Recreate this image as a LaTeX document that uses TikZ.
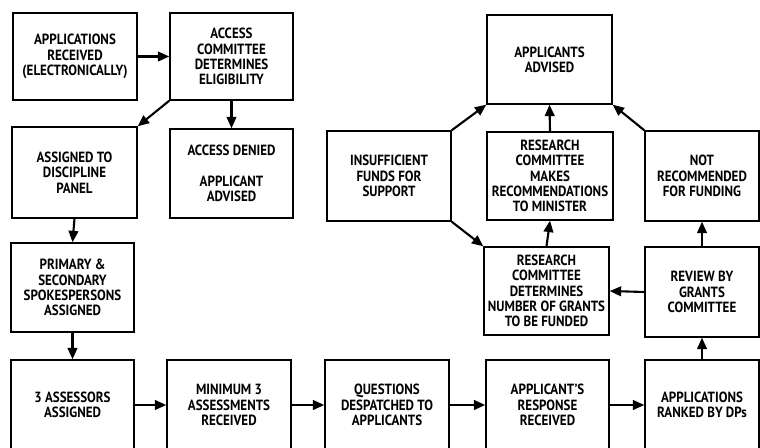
\documentclass[tikz,border=0pt]{standalone}
\usepackage{fontspec}
\setmainfont{PT Sans}[FakeStretch=0.88]
\usetikzlibrary{arrows.meta}

\begin{document}
\begin{tikzpicture}[x=0.02cm, y=-0.02cm,
		stepbox/.style={draw, line width=0.8pt, align=center, inner sep=1pt,
			font=\fontsize{8.4}{8.7}\selectfont\bfseries},
		flow/.style={line width=1.2pt, -{Triangle[length=6.5pt, width=5.5pt]}}]
		%%%%% START %%%%%
		
		\clip (0, 0) rectangle (760, 448);
		
		% left column
		\node[stepbox, minimum width=124*0.02cm, minimum height=87*0.02cm] (recv) at (75, 56.5) {APPLICATIONS\\RECEIVED\\(ELECTRONICALLY)};
		\node[stepbox, minimum width=123*0.02cm, minimum height=87*0.02cm] (access) at (231.5, 56.5) {ACCESS\\COMMITTEE\\DETERMINES\\ELIGIBILITY};
		\node[stepbox, minimum width=125*0.02cm, minimum height=91*0.02cm] (assigned) at (74.5, 172.5) {ASSIGNED TO\\DISCIPLINE\\PANEL};
		\node[stepbox, minimum width=123*0.02cm, minimum height=89*0.02cm] (denied) at (231.5, 173.5) {ACCESS DENIED\\[8.7pt]APPLICANT\\ADVISED};
		\node[stepbox, minimum width=123*0.02cm, minimum height=89*0.02cm] (primary) at (72.5, 287.5) {PRIMARY \&\\SECONDARY\\SPOKESPERSONS\\ASSIGNED};
		
		% bottom row
		\node[stepbox, minimum width=123*0.02cm, minimum height=90*0.02cm] (assessors) at (72.5, 405) {3 ASSESSORS\\ASSIGNED};
		\node[stepbox, minimum width=124*0.02cm, minimum height=90*0.02cm] (minimum) at (229, 405) {MINIMUM 3\\ASSESSMENTS\\RECEIVED};
		\node[stepbox, minimum width=124*0.02cm, minimum height=90*0.02cm] (questions) at (387, 405) {QUESTIONS\\DESPATCHED TO\\APPLICANTS};
		\node[stepbox, minimum width=123*0.02cm, minimum height=90*0.02cm] (response) at (547.5, 405) {APPLICANT'S\\RESPONSE\\RECEIVED};
		\node[stepbox, minimum width=114*0.02cm, minimum height=90*0.02cm] (ranked) at (702, 405) {APPLICATIONS\\RANKED BY DPs};
		
		% right part
		\node[stepbox, minimum width=125*0.02cm, minimum height=89*0.02cm] (advised) at (549.5, 59.5) {APPLICANTS\\ADVISED};
		\node[stepbox, minimum width=124*0.02cm, minimum height=90*0.02cm] (insufficient) at (389, 176) {INSUFFICIENT\\FUNDS FOR\\SUPPORT};
		\node[stepbox, minimum width=126*0.02cm, minimum height=88*0.02cm] (makes) at (550, 176) {RESEARCH\\COMMITTEE\\MAKES\\RECOMMENDATIONS\\TO MINISTER};
		\node[stepbox, minimum width=114*0.02cm, minimum height=90*0.02cm] (notrec) at (702, 176) {NOT\\RECOMMENDED\\FOR FUNDING};
		\node[stepbox, minimum width=125*0.02cm, minimum height=88*0.02cm] (determines) at (546.5, 291) {RESEARCH\\COMMITTEE\\DETERMINES\\NUMBER OF GRANTS\\TO BE FUNDED};
		\node[stepbox, minimum width=114*0.02cm, minimum height=90*0.02cm] (review) at (702, 292) {REVIEW BY\\GRANTS\\COMMITTEE};
		
		% arrows
		\draw[flow] (recv) -- (access);
		\draw[flow] (access.south west) -- (assigned.north east);
		\draw[flow] (access.south) -- (denied.north);
		\draw[flow] (assigned.south) -- (primary.north);
		\draw[flow] (primary.south) -- (assessors.north);
		
		\draw[flow] (assessors) -- (minimum);
		\draw[flow] (minimum) -- (questions);
		\draw[flow] (questions) -- (response);
		\draw[flow] (response) -- (ranked);
		
		\draw[flow] (ranked.north) -- (review.south);
		\draw[flow] (review.north) -- (notrec.south);
		\draw[flow] (review.west) -- (determines.east);
		\draw[flow] (determines.north) -- (makes.south);
		\draw[flow] (makes.north) -- (advised.south);
		\draw[flow] (notrec.north west) -- (advised.south east);
		\draw[flow] (insufficient.north east) -- (advised.south west);
		\draw[flow] (insufficient.south east) -- (determines.north west);
		
		%%%%% END %%%%%
	\end{tikzpicture}
\end{document}
